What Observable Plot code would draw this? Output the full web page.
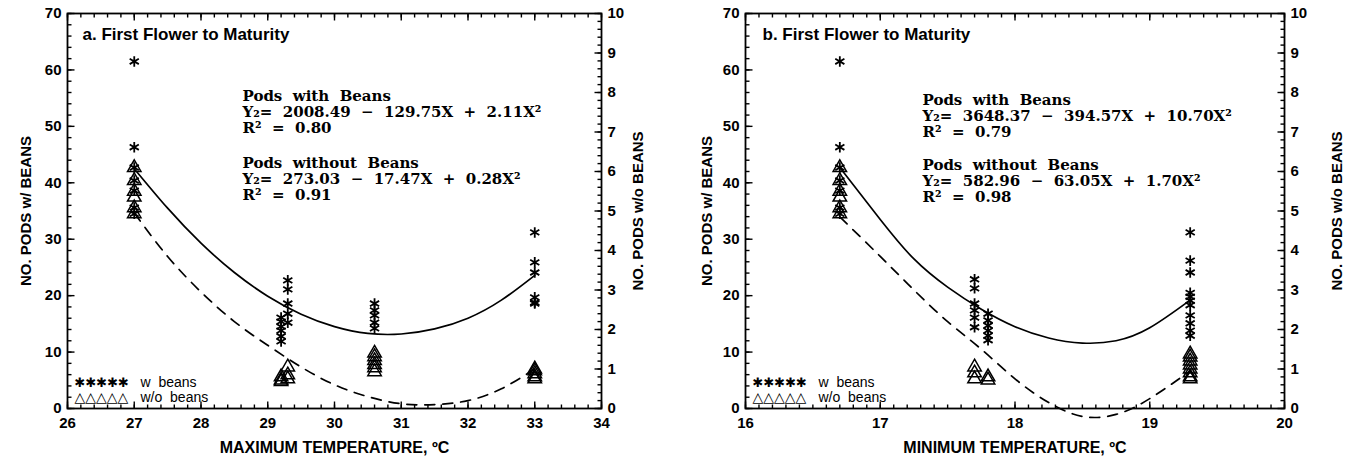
<!DOCTYPE html>
<html><head><meta charset="utf-8">
<script src="https://cdn.jsdelivr.net/npm/d3@7"></script>
<script src="https://cdn.jsdelivr.net/npm/@observablehq/plot@0.6"></script>
<style>
body{margin:0;background:#fff;}
#wrap{display:flex;width:1359px;height:465px;}
svg text{white-space:pre;}
</style></head><body><div id="wrap"></div>
<script>
// ---------- Panel a: maximum temperature ----------
const aTemps = [27, 29.2, 29.3, 30.6, 33];
const aWithBeans = [
  [61.5, 46.3, 42.7, 40.4, 38.6, 35.6, 34.5],
  [16.1, 15.4, 14.5, 13.8, 12.8, 11.9],
  [22.7, 21.1, 18.6, 16.8, 15.2],
  [18.6, 17.4, 16.5, 15.2, 14.2],
  [31.2, 25.9, 24.1, 19.7, 18.8, 18.6]
];
// pods without beans, in right-axis units (0-10)
const aWithoutBeans = [
  [6.1, 5.77, 5.5, 5.35, 5.08, 4.93],
  [0.8, 0.72, 0.68],
  [1.05, 0.85, 0.75],
  [1.4, 1.31, 1.21, 1.11, 1.03, 0.93],
  [1.0, 0.95, 0.88, 0.8, 0.75]
];
const aFitX = [27, 27.5, 28, 28.5, 29, 29.5, 30, 30.5, 31, 31.5, 32, 32.5, 33];
const aFitWith = [42.5, 35.5, 29.3, 24.1, 19.9, 16.7, 14.5, 13.3, 13.2, 14.1, 16.0, 19.2, 23.6];
const aFitWithout = [4.95, 3.85, 2.95, 2.2, 1.6, 1.05, 0.6, 0.3, 0.12, 0.1, 0.2, 0.5, 1.0];
const aXTicks = [26, 27, 28, 29, 30, 31, 32, 33, 34];

// ---------- Panel b: minimum temperature ----------
const bTemps = [16.7, 17.7, 17.8, 19.3];
const bWithBeans = [
  [61.5, 46.3, 42.7, 40.4, 38.6, 35.6, 34.5],
  [22.9, 21.3, 18.6, 17.4, 16.1, 14.4],
  [16.8, 15.6, 14.7, 13.8, 12.9, 12.1],
  [31.2, 26.2, 24.1, 20.5, 19.8, 19.1, 18.3, 16.5, 15.1, 13.8, 12.9]
];
const bWithoutBeans = [
  [6.1, 5.77, 5.5, 5.35, 5.08, 4.93],
  [1.05, 0.9, 0.75],
  [0.8, 0.72],
  [1.38, 1.3, 1.2, 1.1, 1.0, 0.9, 0.8, 0.75]
];
const bFitX = [16.7, 17.0, 17.25, 17.5, 17.75, 18.0, 18.25, 18.5, 18.75, 19.0, 19.3];
const bFitWith = [42.7, 33.5, 26.5, 21.5, 17.6, 14.5, 12.5, 11.6, 12.0, 14.3, 19.2];
const bFitWithout = [4.85, 3.85, 3.0, 2.2, 1.5, 0.75, 0.15, -0.2, -0.15, 0.25, 0.95];
const bXTicks = [16, 17, 18, 19, 20];

const leftYTicks = [0, 10, 20, 30, 40, 50, 60, 70];
const rightYTicks = [0, 1, 2, 3, 4, 5, 6, 7, 8, 9, 10];
const RATIO = 7; // right axis (0-10) to left axis (0-70)

const panels = [
  {
    width: 680, ml: 67, mr: 79, xDomain: [26, 34], xTicks: aXTicks, minorStep: 0.2,
    temps: aTemps, withB: aWithBeans, withoutB: aWithoutBeans,
    fitX: aFitX, fitWith: aFitWith, fitWithout: aFitWithout,
    title: "a. First Flower to Maturity", xLabel: "MAXIMUM TEMPERATURE, ºC",
    block1: ["Pods  with  Beans", "Y₂=  2008.49  −  129.75X  +  2.11X²", "R²  =  0.80"],
    block2: ["Pods  without  Beans", "Y₂=  273.03  −  17.47X  +  0.28X²", "R²  =  0.91"],
    eqDx: 175, eqDy1: 76, eqDy2: 143, titleDx: 15, leftLabOff: 47, rightLabOff: 41
  },
  {
    width: 679, ml: 65, mr: 75, xDomain: [16, 20], xTicks: bXTicks, minorStep: 0.1,
    temps: bTemps, withB: bWithBeans, withoutB: bWithoutBeans,
    fitX: bFitX, fitWith: bFitWith, fitWithout: bFitWithout,
    title: "b. First Flower to Maturity", xLabel: "MINIMUM TEMPERATURE, ºC",
    block1: ["Pods  with  Beans", "Y₂=  3648.37  −  394.57X  +  10.70X²", "R²  =  0.79"],
    block2: ["Pods  without  Beans", "Y₂=  582.96  −  63.05X  +  1.70X²", "R²  =  0.98"],
    eqDx: 177, eqDy1: 80, eqDy2: 145, titleDx: 17, leftLabOff: 44, rightLabOff: 57
  }
];

const H = 465, MT = 13, MB = 57;
for (const p of panels) {
  const plotW = p.width - p.ml - p.mr, plotH = H - MT - MB;
  const kx = plotW / (p.xDomain[1] - p.xDomain[0]);
  const ky = plotH / 70;
  const x0 = p.xDomain[0], x1 = p.xDomain[1];
  const nMinor = Math.round((x1 - x0) / p.minorStep);
  const minorX = d3.range(nMinor + 1).map(i => x0 + i * p.minorStep);
  const minorYL = d3.range(0, 71, 2);
  const minorYR = d3.range(0, 51).map(i => i * 0.2 * RATIO);
  const tMin = 4, tMaj = 7;
  // inward tick segments built from the tick arrays
  const segs = [];
  for (const v of minorX) { segs.push({x1: v, x2: v, y1: 0, y2: tMin / ky}, {x1: v, x2: v, y1: 70, y2: 70 - tMin / ky}); }
  for (const v of p.xTicks) { segs.push({x1: v, x2: v, y1: 0, y2: tMaj / ky}, {x1: v, x2: v, y1: 70, y2: 70 - tMaj / ky}); }
  for (const v of minorYL) segs.push({x1: x0, x2: x0 + tMin / kx, y1: v, y2: v});
  for (const v of leftYTicks) segs.push({x1: x0, x2: x0 + tMaj / kx, y1: v, y2: v});
  for (const v of minorYR) segs.push({x1: x1, x2: x1 - tMin / kx, y1: v, y2: v});
  for (const v of rightYTicks) segs.push({x1: x1, x2: x1 - tMaj / kx, y1: v * RATIO, y2: v * RATIO});

  const withPts = p.temps.flatMap((t, i) => p.withB[i].map(v => ({x: t, y: v})));
  const withoutPts = p.temps.flatMap((t, i) => p.withoutB[i].map(v => ({x: t, y: v * RATIO})));
  const fitW = p.fitX.map((x, i) => ({x, y: p.fitWith[i]}));
  const fitWo = p.fitX.map((x, i) => ({x, y: p.fitWithout[i] * RATIO}));
  const eqStyle = {frameAnchor: "top-left", dx: p.eqDx, lineAnchor: "top", textAnchor: "start", lineHeight: 1.07, fontFamily: "'DejaVu Serif', serif", fontSize: 15, fontWeight: "bold", letterSpacing: "1.1px"};
  const chart = Plot.plot({
    width: p.width, height: H,
    marginLeft: p.ml, marginRight: p.mr, marginTop: MT, marginBottom: MB,
    style: {fontFamily: "'Liberation Sans', Arial, sans-serif", fontSize: "15px", fontWeight: "bold", color: "black", background: "white"},
    x: {domain: p.xDomain},
    y: {domain: [0, 70]},
    marks: [
      Plot.link(segs, {x1: "x1", y1: "y1", x2: "x2", y2: "y2", stroke: "black", strokeWidth: 1.4}),
      Plot.frame({stroke: "black", strokeWidth: 1.8}),
      Plot.axisX(p.xTicks, {anchor: "bottom", tickSize: 0, tickPadding: 9, tickFormat: d => String(d), label: null, fontSize: 15, fontWeight: "bold"}),
      Plot.axisY(leftYTicks, {anchor: "left", tickSize: 0, tickPadding: 6, tickFormat: d => String(d), label: "NO. PODS w/ BEANS", labelAnchor: "center", labelOffset: p.leftLabOff, labelArrow: "none", fontSize: 15, fontWeight: "bold"}),
      Plot.axisY(rightYTicks, {anchor: "right", y: d => d * RATIO, tickFormat: d => String(d), tickSize: 0, tickPadding: 6, label: "NO. PODS w/o BEANS", labelAnchor: "center", labelOffset: p.rightLabOff, labelArrow: "none", fontSize: 15, fontWeight: "bold"}),
      // x axis title
      Plot.text([p.xLabel], {frameAnchor: "bottom", dy: 44, fontSize: 16, fontWeight: "bold", letterSpacing: "0.9px"}),
      // panel title
      Plot.text([p.title], {frameAnchor: "top-left", dx: p.titleDx, dy: 14, lineAnchor: "top", textAnchor: "start", fontSize: 17, fontWeight: "bold", letterSpacing: "0.5px"}),
      // equations
      Plot.text([p.block1.join("\n")], {...eqStyle, dy: p.eqDy1}),
      Plot.text([p.block2.join("\n")], {...eqStyle, dy: p.eqDy2}),
      // legend
      Plot.text(["✱✱✱✱✱"], {frameAnchor: "bottom-left", dx: 7, dy: -22, textAnchor: "start", fontFamily: "'DejaVu Sans', sans-serif", fontSize: 13, fontWeight: "normal"}),
      Plot.text(["w  beans"], {frameAnchor: "bottom-left", dx: 73, dy: -22, textAnchor: "start", fontSize: 14, fontWeight: "normal"}),
      Plot.text(["△△△△△"], {frameAnchor: "bottom-left", dx: 7, dy: -7, textAnchor: "start", fontFamily: "'DejaVu Sans', sans-serif", fontSize: 14, fontWeight: "bold"}),
      Plot.text(["w/o  beans"], {frameAnchor: "bottom-left", dx: 73, dy: -7, textAnchor: "start", fontSize: 14, fontWeight: "normal"}),
      // fitted curves
      Plot.line(fitW, {x: "x", y: "y", stroke: "black", strokeWidth: 1.7, curve: "natural"}),
      Plot.line(fitWo, {x: "x", y: "y", stroke: "black", strokeWidth: 1.7, strokeDasharray: "10,8", curve: "natural"}),
      // data points
      Plot.dot(withPts, {x: "x", y: "y", symbol: "asterisk", r: 5, stroke: "black", strokeWidth: 1.8}),
      Plot.dot(withoutPts, {x: "x", y: "y", symbol: "triangle", r: 5, fill: "none", stroke: "black", strokeWidth: 1.5})
    ]
  });
  document.getElementById("wrap").appendChild(chart);
}
</script>
</body></html>
